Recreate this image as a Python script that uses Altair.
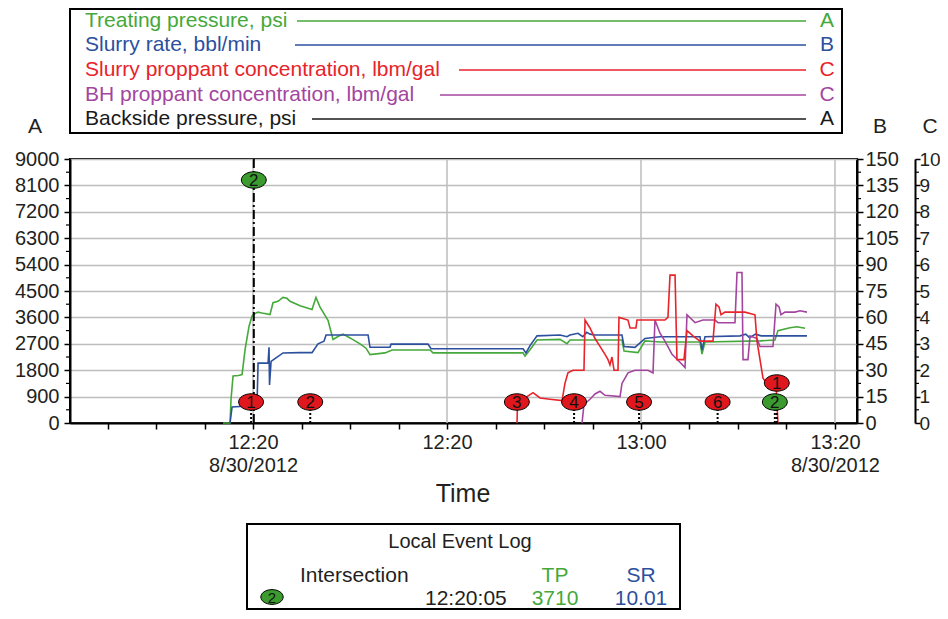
import altair as alt
import pandas as pd

FONT = "Liberation Sans"
INK = "#231f20"
GREEN = "#45a83a"
BLUE = "#2c4f9e"
RED = "#e8232a"
PURPLE = "#a3459f"
GRID = "#bdbdbd"
MARK_RED = "#e0181d"
MARK_GREEN = "#3b9b2f"

W, H = 787, 264

# ---------------- data (time = minutes after 12:00, 8/30/2012) ----------------
tp_t = [16.9, 17.63, 17.73, 17.94, 18.5, 18.87, 19.18, 19.59, 19.9, 20.08, 20.5, 20.93,
        21.75, 22.06, 22.58, 23.09, 23.5, 23.81, 24.85, 26.08, 26.49, 26.91, 27.73, 28.25,
        28.76, 29.28, 30.0, 31.03, 31.65, 32.06, 33.61, 34.33, 38.25, 38.56, 47.84, 48.04,
        48.56, 49.28, 51.65, 52.37, 52.68, 55.77, 58.04, 58.25, 59.69, 60.41, 61.96, 66.08,
        66.29, 66.6, 72.27, 73.81, 74.12, 75.36, 76.08, 76.91]
tp_v = [0, 0, 800, 1600, 1620, 1650, 2500, 3300, 3650, 3710, 3780, 3750,
        3700, 4100, 4150, 4280, 4250, 4150, 4000, 3870, 4280, 3950, 3500, 2850,
        2950, 3030, 2900, 2700, 2550, 2330, 2390, 2490, 2490, 2390, 2390, 2280,
        2500, 2830, 2850, 2700, 2830, 2830, 2830, 2450, 2400, 2800, 2760, 2760,
        2350, 2760, 2800, 2830, 3150, 3250, 3280, 3230]

sr_t = [17.63, 17.84, 20.41, 20.52, 21.55, 21.65, 21.7, 21.86, 22.37, 23.09, 24.85, 26.08,
        26.7, 27.32, 27.53, 31.86, 32.06, 34.12, 34.23, 38.04, 38.35, 47.84, 48.14, 48.56,
        49.28, 51.65, 52.37, 52.68, 53.5, 54.0, 54.4, 54.74, 55.26, 58.04, 58.25, 59.38,
        60.41, 61.96, 66.08, 66.29, 66.6, 70.21, 70.8, 71.2, 71.8, 72.4, 77.11]
sr_v = [0, 9.1, 10.0, 34, 34, 43, 21.6, 35, 37, 39.8, 40, 40,
        45, 46.5, 50, 50, 43, 43, 44.8, 44.8, 42.2, 42.2, 39.8, 44,
        49.5, 50, 49, 50, 51, 49, 51.5, 50.5, 50, 50, 43.5, 43,
        48, 49, 49, 41.5, 49, 49.5, 50.5, 48.5, 50.5, 49.5, 49.5]

spc_t = [47.22, 47.27, 48.04, 48.87, 49.59, 50.62, 51.86, 52.16, 52.47, 52.99, 54.12, 54.23,
         54.74, 55.26, 55.77, 56.29, 56.6, 56.8, 57.01, 57.22, 57.63, 57.73, 58.66, 58.87,
         59.48, 59.59, 62.47, 62.78, 62.99, 63.51, 63.71, 64.43, 64.74, 65.36, 66.08, 67.42,
         67.73, 68.04, 68.25, 68.66, 70.72, 71.75, 71.96, 72.27, 72.58, 72.99, 73.92, 74.12]
spc_v = [0, 0.85, 0.95, 1.15, 0.95, 0.9, 0.85, 1.5, 1.9, 2.0, 2.0, 3.9,
         3.6, 3.2, 2.9, 2.6, 2.4, 2.2, 2.5, 2.0, 2.0, 4.0, 3.9, 3.6,
         3.6, 3.9, 3.9, 4.0, 5.6, 5.6, 2.4, 2.4, 3.5, 3.3, 3.1, 3.1,
         4.5, 4.4, 4.1, 4.2, 4.2, 4.1, 3.1, 2.4, 1.7, 1.5, 1.5, 0]

bhc_t = [53.92, 54.12, 54.74, 55.26, 55.77, 56.29, 57.84, 58.04, 58.66, 59.38, 60.72, 61.24,
         61.44, 61.96, 62.47, 63.2, 64.02, 64.54, 64.74, 65.57, 66.39, 67.63, 67.94, 69.69,
         69.9, 70.41, 70.52, 71.03, 71.24, 71.96, 72.27, 73.61, 73.92, 74.23, 74.43, 74.85,
         75.88, 76.39, 77.11]
bhc_v = [0, 0.7, 0.9, 1.1, 1.2, 1.05, 1.0, 1.5, 1.9, 2.0, 2.0, 1.9,
         3.9, 3.4, 3.1, 2.6, 2.3, 2.1, 4.1, 3.8, 3.9, 3.9, 3.8, 3.8,
         5.7, 5.7, 2.4, 2.4, 3.3, 3.2, 2.9, 2.9, 4.5, 4.4, 4.1, 4.2,
         4.2, 4.25, 4.2]

# events: time, level (psi-axis units), label, kind, has stem
ev_t = [19.8, 25.9, 47.2, 53.1, 59.8, 67.9, 73.8, 74.0, 20.08]
ev_level = [716, 716, 716, 716, 716, 716, 716, 1364, 8284]
ev_label = ["1", "2", "3", "4", "5", "6", "2", "1", "2"]
ev_kind = ["stage"] * 6 + ["intersection", "stage", "intersection"]
ev_stem = [True, True, False, True, True, True, True, True, False]

log_time_min = 20.08
log_title = "Local Event Log"
log_event = "Intersection"
log_clock = "12:20:05"
log_tp = "3710"
log_sr = "10.01"

a_ticks = list(range(0, 9001, 900))
b_ticks = list(range(0, 151, 15))
c_ticks = list(range(0, 11))
minor_a = [450 + 900 * k for k in range(10)]
x_ticks = list(range(5, 81, 5))
v_grid = [20, 40, 60, 80]
x_labels = {20: ["12:20", "8/30/2012"], 40: "12:20", 60: "13:00", 80: ["13:20", "8/30/2012"]}

legend_labels = ["Treating pressure, psi", "Slurry rate, bbl/min",
                 "Slurry proppant concentration, lbm/gal", "BH proppant concentration, lbm/gal",
                 "Backside pressure, psi"]
legend_colors = [GREEN, BLUE, RED, PURPLE, "#1a1a1a"]
legend_axes = ["A", "B", "C", "C", "A"]

# ---------------- layout (pixels relative to plot origin) ----------------
legend_y = [-138, -114, -89, -64, -40]
legend_line_start = [227, 225, 389, 370, 242]


def label_expr():
    parts = []
    for k, v in x_labels.items():
        if isinstance(v, list):
            s = "[" + ",".join(f"'{x}'" for x in v) + "]"
        else:
            s = f"'{v}'"
        parts.append(f"datum.value == {k} ? {s}")
    return " : ".join(parts) + " : ''"


XS = alt.Scale(domain=[1.13, 82.27], nice=False, zero=False)
X_AXIS = alt.Axis(values=x_ticks, labelExpr=label_expr(), grid=False, tickSize=6,
                  tickColor="black", tickWidth=1.5, domainColor="black", domainWidth=2,
                  labelFont=FONT, labelFontSize=20, labelColor=INK, labelPadding=3,
                  labelLineHeight=23, labelOverlap=False, labelFlush=False,
                  labelBaseline="top", title=None)


def xenc():
    return alt.X("t:Q", scale=XS, axis=X_AXIS)


def ys(hi):
    return alt.Scale(domain=[0, hi], nice=False, zero=True)


def yaxis(orient, vals, pad, offset=0, grid=False, size=20, tick=6):
    kw = dict(orient=orient, values=vals, grid=grid, tickSize=tick, tickColor="black",
              tickWidth=1.5, domainColor="black", domainWidth=2, labelFont=FONT,
              labelFontSize=size, labelColor=INK, labelPadding=pad, format="d",
              labelOverlap=False, title=None)
    if grid:
        kw.update(gridColor=GRID, gridWidth=1.5)
    if offset:
        kw["offset"] = offset
    return alt.Axis(**kw)


one = pd.DataFrame({"d": [0]})


def txt(s, x, y, size=20, color=INK, align="left"):
    return alt.Chart(one).mark_text(text=s, font=FONT, fontSize=size, color=color,
                                    align=align, baseline="middle").encode(
        x=alt.value(x), y=alt.value(y))


layers = []

# vertical grid lines
layers.append(alt.Chart(pd.DataFrame({"t": v_grid})).mark_rule(color=GRID, strokeWidth=1.5)
              .encode(x=xenc()))

# series
layers.append(alt.Chart(pd.DataFrame({"t": tp_t, "v": tp_v})).mark_line(color=GREEN, strokeWidth=1.6)
              .encode(x=xenc(), y=alt.Y("v:Q", scale=ys(9000), axis=yaxis("left", a_ticks, 5, grid=True))))
layers.append(alt.Chart(pd.DataFrame({"t": sr_t, "v": sr_v})).mark_line(color=BLUE, strokeWidth=1.6)
              .encode(x=xenc(), y=alt.Y("v:Q", scale=ys(150), axis=yaxis("right", b_ticks, 2))))
layers.append(alt.Chart(pd.DataFrame({"t": bhc_t, "v": bhc_v})).mark_line(color=PURPLE, strokeWidth=1.6)
              .encode(x=xenc(), y=alt.Y("v:Q", scale=ys(10), axis=yaxis("right", c_ticks, -1, offset=58,
                                                                           size=19, tick=5))))
layers.append(alt.Chart(pd.DataFrame({"t": spc_t, "v": spc_v})).mark_line(color=RED, strokeWidth=1.6)
              .encode(x=xenc(), y=alt.Y("v:Q", scale=ys(10), axis=None)))

# minor ticks on the three value axes
minor_df = pd.DataFrame({"v": minor_a})
for x0 in (-4, W, W + 58):
    layers.append(alt.Chart(minor_df).mark_rule(color="black", strokeWidth=1.2)
                  .encode(y=alt.Y("v:Q", scale=ys(9000), axis=None),
                          x=alt.value(x0), x2=alt.value(x0 + 4 if x0 >= 0 else 0)))

# dash-dot intersection line
layers.append(alt.Chart(pd.DataFrame({"t": [log_time_min], "lo": [0], "hi": [9000]}))
              .mark_rule(color="black", strokeWidth=2, strokeDash=[9, 3, 2, 3])
              .encode(x=xenc(), y=alt.Y("lo:Q", scale=ys(9000), axis=None), y2="hi:Q"))

ev = pd.DataFrame({"t": ev_t, "level": ev_level, "label": ev_label, "kind": ev_kind, "stem": ev_stem})
stems = ev[ev["stem"]].copy()
stems["lo"] = 0
stems["hi"] = 716
layers.append(alt.Chart(stems).mark_rule(color="black", strokeWidth=2, strokeDash=[2, 2])
              .encode(x=xenc(), y=alt.Y("lo:Q", scale=ys(9000), axis=None), y2="hi:Q"))

ELLIPSE = "M-1,0A1,0.66,0,1,1,1,0A1,0.66,0,1,1,-1,0Z"
layers.append(alt.Chart(ev).mark_point(shape=ELLIPSE, size=620, filled=True, opacity=1,
                                       stroke="black", strokeWidth=1)
              .encode(x=xenc(), y=alt.Y("level:Q", scale=ys(9000), axis=None),
                      fill=alt.Fill("kind:N", scale=alt.Scale(domain=["stage", "intersection"],
                                                              range=[MARK_RED, MARK_GREEN]),
                                    legend=None)))
layers.append(alt.Chart(ev).mark_text(font=FONT, fontSize=17, color="#111111", baseline="middle", dy=1)
              .encode(x=xenc(), y=alt.Y("level:Q", scale=ys(9000), axis=None), text="label:N"))

# axis titles
layers.append(txt("A", -35, -32, 21, align="center"))
layers.append(txt("B", 810, -32, 21, align="center"))
layers.append(txt("C", 860, -32, 21, align="center"))
layers.append(txt("Time", 393, 335, 25, align="center"))

# legend box
layers.append(alt.Chart(one).mark_rect(fill="white", fillOpacity=0, stroke="black", strokeWidth=2)
              .encode(x=alt.value(0), x2=alt.value(772), y=alt.value(-150), y2=alt.value(-26)))
for lab, col, ax, yy, ls in zip(legend_labels, legend_colors, legend_axes, legend_y, legend_line_start):
    layers.append(txt(lab, 15, yy, 21, col))
    layers.append(alt.Chart(one).mark_rule(color=col, strokeWidth=1.5)
                  .encode(x=alt.value(ls), x2=alt.value(736), y=alt.value(yy)))
    layers.append(txt(ax, 757, yy, 21, col, align="center"))

# local event log box
layers.append(alt.Chart(one).mark_rect(fill="white", fillOpacity=0, stroke="black", strokeWidth=2)
              .encode(x=alt.value(177), x2=alt.value(610), y=alt.value(365), y2=alt.value(450)))
layers.append(txt(log_title, 390, 383, 20, align="center"))
layers.append(txt(log_event, 230, 417, 21))
layers.append(alt.Chart(one).mark_point(shape=ELLIPSE, size=500, filled=True, opacity=1,
                                        fill=MARK_GREEN, stroke="black", strokeWidth=1)
              .encode(x=alt.value(202), y=alt.value(438)))
layers.append(txt("2", 202, 439, 15, "#111111", align="center"))
layers.append(txt(log_clock, 355, 440, 21))
layers.append(txt("TP", 485, 417, 21, GREEN, align="center"))
layers.append(txt(log_tp, 485, 440, 21, GREEN, align="center"))
layers.append(txt("SR", 571, 417, 21, BLUE, align="center"))
layers.append(txt(log_sr, 571, 440, 21, BLUE, align="center"))

chart = (alt.layer(*layers)
         .resolve_scale(y="independent")
         .properties(width=W, height=H, autosize=alt.AutoSizeParams(type="none"),
                     padding={"left": 62, "top": 151, "right": 83, "bottom": 188})
         .configure_view(stroke="black", strokeWidth=2))

chart.save("out.html", embed_options={"renderer": "svg", "actions": False})
